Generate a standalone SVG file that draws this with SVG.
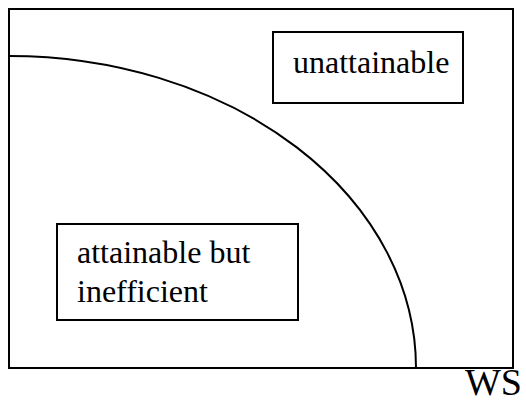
<svg xmlns="http://www.w3.org/2000/svg" width="526" height="404" viewBox="0 0 526 404">
<style>
.box{fill:none;stroke:#000;stroke-width:2}
.t{font-family:"Liberation Serif","Times New Roman",serif;fill:#000}
</style>
<rect width="526" height="404" fill="#fff"/>
<g id="frame"><rect class="box" x="9" y="9" width="504" height="359"/></g>
<g id="connectors"><path class="box" d="M9,56 A407,312 0 0 1 416,368"/></g>
<g id="unattainable"><rect class="box" x="273" y="32" width="190" height="71"/><text class="t" x="293" y="73" font-size="32">unattainable</text></g>
<g id="attainable"><rect class="box" x="57" y="224" width="241" height="96"/><text class="t" x="77" y="263" font-size="32">attainable but</text><text class="t" x="77" y="302" font-size="32">inefficient</text></g>
<g id="ws"><text class="t" x="465" y="395" font-size="38">WS</text></g>
</svg>
